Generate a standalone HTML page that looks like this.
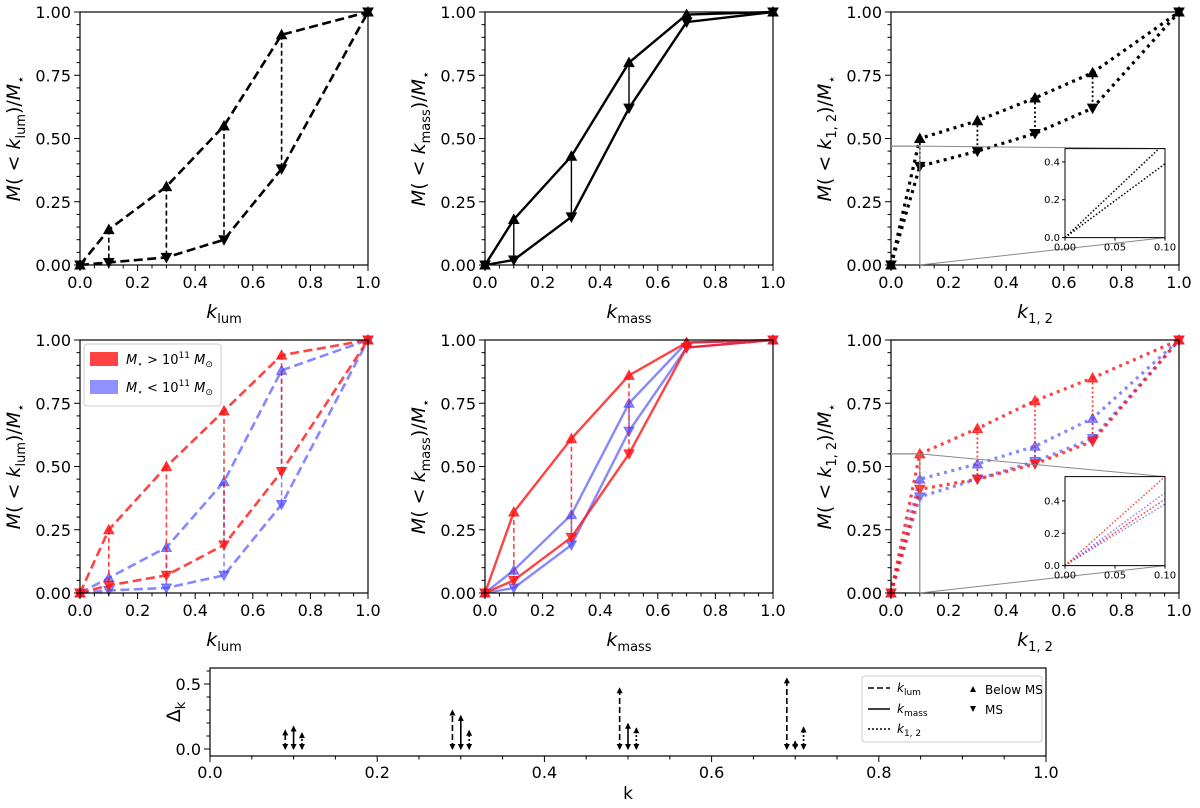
<!DOCTYPE html>
<html><head><meta charset="utf-8">
<style>
html,body{margin:0;padding:0;background:#fff;}
svg{display:block;font-family:"DejaVu Sans","Liberation Sans",sans-serif;}
</style></head>
<body>
<svg id="fig" width="1200" height="808" viewBox="0 0 1200 808"></svg>
<script>
// ---- data ----
const kGrid = [0, 0.1, 0.3, 0.5, 0.7, 1.0];
const lumUp = [0, 0.14, 0.31, 0.55, 0.91, 1.0];
const lumDown = [0, 0.01, 0.03, 0.10, 0.38, 1.0];
const massUp = [0, 0.18, 0.43, 0.80, 0.99, 1.0];
const massDown = [0, 0.02, 0.19, 0.62, 0.96, 1.0];
const k12Up = [0, 0.50, 0.57, 0.66, 0.76, 1.0];
const k12Down = [0, 0.39, 0.45, 0.52, 0.62, 1.0];
const lumRedUp = [0, 0.25, 0.50, 0.72, 0.94, 1.0];
const lumRedDown = [0, 0.03, 0.07, 0.19, 0.48, 1.0];
const lumBlueUp = [0, 0.06, 0.18, 0.44, 0.88, 1.0];
const lumBlueDown = [0, 0.01, 0.02, 0.07, 0.35, 1.0];
const massRedUp = [0, 0.32, 0.61, 0.86, 0.99, 1.0];
const massRedDown = [0, 0.05, 0.22, 0.55, 0.97, 1.0];
const massBlueUp = [0, 0.09, 0.31, 0.75, 0.99, 1.0];
const massBlueDown = [0, 0.02, 0.19, 0.64, 0.97, 1.0];
const k12RedUp = [0, 0.55, 0.65, 0.76, 0.85, 1.0];
const k12RedDown = [0, 0.41, 0.45, 0.51, 0.60, 1.0];
const k12BlueUp = [0, 0.45, 0.51, 0.58, 0.69, 1.0];
const k12BlueDown = [0, 0.38, 0.45, 0.52, 0.61, 1.0];
const xTicks = ["0.0","0.2","0.4","0.6","0.8","1.0"];
const yTicks = ["0.00","0.25","0.50","0.75","1.00"];
const dkCenters = [0.1, 0.3, 0.5, 0.7];
const dkLum = [0.143, 0.296, 0.467, 0.543];
const dkMass = [0.173, 0.255, 0.194, 0.059];
const dkK12 = [0.122, 0.14, 0.16, 0.166];
const dkYTicks = ["0.0","0.5"];

const NS="http://www.w3.org/2000/svg";
const svg=document.getElementById('fig');
function el(tag,attrs,parent){const e=document.createElementNS(NS,tag);for(const k in attrs)e.setAttribute(k,attrs[k]);(parent||svg).appendChild(e);return e;}

const RED="rgba(255,20,20,0.8)", BLUE="rgba(70,70,255,0.65)";
const STY={dash:{w:2.6,d:"9,4.5",cw:1.6,cd:"5,3"},solid:{w:2.4,d:"none",cw:1.4,cd:"none"},soliddash:{w:2.4,d:"none",cw:1.6,cd:"5,3"},dot:{w:3.2,d:"3,4.5",cw:1.8,cd:"2,2.5"}};

function tri(g,x,y,up,color,name){
  const s=5;
  const pts=up?`${x-s},${y+s*0.8} ${x+s},${y+s*0.8} ${x},${y-s}`:`${x-s},${y-s*0.8} ${x+s},${y-s*0.8} ${x},${y+s}`;
  const t=el('polygon',{points:pts,fill:color,stroke:color,'stroke-width':1},g);
  
  
}

function panel(id,L,T,W,H,series,style,xlab,ylab,inset){
  const g=el('g',{});
  
  
  const sx=v=>L+v*W, sy=v=>T+H-v*H;
  const clipId='clip-'+id;
  const cp=el('clipPath',{id:clipId},g);el('rect',{x:L-6,y:T-6,width:W+12,height:H+12},cp);
  const plot=el('g',{'clip-path':`url(#${clipId})`},g);
  const st=STY[style];
  series.forEach(sr=>{
    [['up',sr.up,true],['down',sr.down,false]].forEach(([nm,arr,up])=>{
      const p=el('polyline',{points:kGrid.map((k,i)=>sx(k)+','+sy(arr[i])).join(' '),fill:'none',stroke:sr.color,'stroke-width':st.w,'stroke-dasharray':st.d},plot);
      
      
    });
    kGrid.forEach((k,i)=>{
      if(i>0&&i<kGrid.length-1){
        const c=el('line',{x1:sx(k),x2:sx(k),y1:sy(sr.up[i]),y2:sy(sr.down[i]),stroke:sr.conn||sr.color,'stroke-width':st.cw,'stroke-dasharray':st.cd},plot);
        
        
      }
      tri(plot,sx(k),sy(sr.up[i]),true,sr.color,sr.name+'-up-marker');
      tri(plot,sx(k),sy(sr.down[i]),false,sr.color,sr.name+'-down-marker');
    });
  });
  const b=el('rect',{x:L,y:T,width:W,height:H,fill:'none',stroke:'#000','stroke-width':1.2},g);
  
  for(let i=0;i<=20;i++){const v=i*0.05;const maj=i%4===0;
    el('line',{x1:sx(v),x2:sx(v),y1:T+H,y2:T+H+(maj?6:3.5),stroke:'#000','stroke-width':1},g);}
  for(let i=0;i<=20;i++){const v=i*0.05;const maj=i%5===0;
    el('line',{x1:L,x2:L-(maj?6:3.5),y1:sy(v),y2:sy(v),stroke:'#000','stroke-width':1},g);}
  xTicks.forEach(t=>{const tx=el('text',{x:sx(+t),y:T+H+23,'text-anchor':'middle','font-size':16},g);tx.textContent=t;
    });
  yTicks.forEach(t=>{const tx=el('text',{x:L-9,y:sy(+t)+6,'text-anchor':'end','font-size':16},g);tx.textContent=t;
    });
  const xl=el('text',{x:L+W/2,y:T+H+53,'text-anchor':'middle','font-size':19},g);
  xl.innerHTML=`<tspan font-style="italic">k</tspan><tspan font-size="13" dy="5">${xlab}</tspan>`;
  
  const yl=el('text',{transform:`translate(${L-60},${T+H/2}) rotate(-90)`,'text-anchor':'middle','font-size':19},g);
  yl.innerHTML=`<tspan font-style="italic">M</tspan>( &lt; <tspan font-style="italic">k</tspan><tspan font-size="13" dy="5">${ylab}</tspan><tspan dy="-5">)/</tspan><tspan font-style="italic">M</tspan><tspan font-size="13" dy="5">⋆</tspan>`;
  
  if(inset){
    const ymax=inset.ymax;
    const iL=1065,iR=1165,iT=T+H*0.54,iB=iT+89;
    el('line',{x1:L,x2:sx(0.1),y1:sy(ymax),y2:sy(ymax),stroke:'#888','stroke-width':1.2},g);
    el('line',{x1:sx(0.1),x2:sx(0.1),y1:sy(0),y2:sy(ymax),stroke:'#888','stroke-width':1.2},g);
    el('line',{x1:sx(0.1),x2:iR,y1:sy(ymax),y2:iT,stroke:'#888','stroke-width':1},g);
    el('line',{x1:sx(0.1),x2:iR,y1:sy(0),y2:iB,stroke:'#888','stroke-width':1},g);
    const ig=el('g',{},g);
    
    el('rect',{x:iL,y:iT,width:iR-iL,height:iB-iT,fill:'#fff'},ig);
    const icx=v=>iL+v/0.1*(iR-iL), icy=v=>iB-v/ymax*(iB-iT);
    const icp=el('clipPath',{id:clipId+'i'},ig);el('rect',{x:iL,y:iT,width:iR-iL,height:iB-iT},icp);
    const ip=el('g',{'clip-path':`url(#${clipId}i)`},ig);
    series.forEach(sr=>{[sr.up,sr.down].forEach(arr=>{
      el('line',{x1:icx(0),y1:icy(0),x2:icx(kGrid[1]),y2:icy(arr[1]),stroke:sr.color,'stroke-width':1.5,'stroke-dasharray':'1.5,2'},ip);});});
    el('rect',{x:iL,y:iT,width:iR-iL,height:iB-iT,fill:'none',stroke:'#000','stroke-width':1},ig);
    ["0.00","0.05","0.10"].forEach(t=>{el('line',{x1:icx(+t),x2:icx(+t),y1:iB,y2:iB+3,stroke:'#000'},ig);
      const tx=el('text',{x:icx(+t),y:iB+13,'text-anchor':'middle','font-size':10},ig);tx.textContent=t;});
    ["0.0","0.2","0.4"].forEach(t=>{el('line',{x1:iL,x2:iL-3,y1:icy(+t),y2:icy(+t),stroke:'#000'},ig);
      const tx=el('text',{x:iL-5,y:icy(+t)+3.5,'text-anchor':'end','font-size':10},ig);tx.textContent=t;});
  }
}
const K="#000";
panel('panel-lum',80,12,288,253,[{name:'lum',up:lumUp,down:lumDown,color:K}],'dash','lum','lum');
panel('panel-mass',485,12,288,253,[{name:'mass',up:massUp,down:massDown,color:K}],'solid','mass','mass');
panel('panel-k12',891,12,288,253,[{name:'k12',up:k12Up,down:k12Down,color:K}],'dot','1, 2','1, 2',{ymax:0.47});
panel('panel-lum-split',80,340,288,253,[{name:'lum-blue',up:lumBlueUp,down:lumBlueDown,color:BLUE},{name:'lum-red',up:lumRedUp,down:lumRedDown,color:RED}],'dash','lum','lum');
panel('panel-mass-split',485,340,288,253,[{name:'mass-blue',up:massBlueUp,down:massBlueDown,color:BLUE,conn:BLUE},{name:'mass-red',up:massRedUp,down:massRedDown,color:RED,conn:RED}],'soliddash','mass','mass');
panel('panel-k12-split',891,340,288,253,[{name:'k12-blue',up:k12BlueUp,down:k12BlueDown,color:BLUE},{name:'k12-red',up:k12RedUp,down:k12RedDown,color:RED}],'dot','1, 2','1, 2',{ymax:0.55});

(function(){
  const g=el('g',{});
  el('rect',{x:84,y:344,width:137,height:62,fill:'#fff',stroke:'#ccc',rx:3},g);
  el('rect',{x:90,y:352,width:28,height:14,fill:'rgba(255,20,20,0.8)'},g);
  el('rect',{x:90,y:380,width:28,height:14,fill:'rgba(70,70,255,0.6)'},g);
  const t1=el('text',{x:126,y:364,'font-size':13},g);
  t1.innerHTML='<tspan font-style="italic">M</tspan><tspan font-size="9" dy="3">⋆</tspan><tspan dy="-3"> &gt; 10</tspan><tspan font-size="9" dy="-6">11</tspan><tspan dy="6"> </tspan><tspan font-style="italic">M</tspan><tspan font-size="9" dy="3">⊙</tspan>';
  const t2=el('text',{x:126,y:392,'font-size':13},g);
  t2.innerHTML='<tspan font-style="italic">M</tspan><tspan font-size="9" dy="3">⋆</tspan><tspan dy="-3"> &lt; 10</tspan><tspan font-size="9" dy="-6">11</tspan><tspan dy="6"> </tspan><tspan font-style="italic">M</tspan><tspan font-size="9" dy="3">⊙</tspan>';
})();

(function(){
  const L=210,R=1046,T=668,B=756,y0=749,yh=684;
  const sx=v=>L+v*(R-L), sy=v=>y0-(y0-yh)*v/0.5;
  const g=el('g',{});
  const sets=[[dkLum,-0.01,'dash','lum'],[dkMass,0,'solid','mass'],[dkK12,0.01,'dot','k12']];
  const dsh={dash:"6,3",solid:"none",dot:"2,2"};
  sets.forEach(([arr,off,s,nm])=>{
    dkCenters.forEach((c,i)=>{
      const x=sx(c+off);
      const ln=el('line',{x1:x,x2:x,y1:sy(0),y2:sy(arr[i]),stroke:'#000','stroke-width':1.6,'stroke-dasharray':dsh[s]},g);
      
      
      el('polygon',{points:`${x-3},${sy(arr[i])+5} ${x+3},${sy(arr[i])+5} ${x},${sy(arr[i])-1}`,fill:'#000'},g);
      el('polygon',{points:`${x-3},${sy(0)-5} ${x+3},${sy(0)-5} ${x},${sy(0)+1}`,fill:'#000'},g);
    });
  });
  el('rect',{x:L,y:T,width:R-L,height:B-T,fill:'none',stroke:'#000','stroke-width':1.2},g);
  for(let i=0;i<=20;i++){const v=i*0.05,maj=i%4===0;el('line',{x1:sx(v),x2:sx(v),y1:B,y2:B+(maj?6:3.5),stroke:'#000'},g);}
  for(let i=0;i<=6;i++){const v=i*0.1;if(sy(v)<T)break;el('line',{x1:L,x2:L-(i%5===0?6:3.5),y1:sy(v),y2:sy(v),stroke:'#000'},g);}
  xTicks.forEach(t=>{const tx=el('text',{x:sx(+t),y:B+22,'text-anchor':'middle','font-size':16},g);tx.textContent=t;
    });
  dkYTicks.forEach(t=>{const tx=el('text',{x:L-9,y:sy(+t)+6,'text-anchor':'end','font-size':16},g);tx.textContent=t;
    });
  const xl=el('text',{x:(L+R)/2,y:799,'text-anchor':'middle','font-size':17},g);xl.textContent='k';
  
  const yl=el('text',{transform:`translate(180,712) rotate(-90)`,'text-anchor':'middle','font-size':19},g);
  yl.innerHTML='Δ<tspan font-size="13" dy="5">k</tspan>';
  
  const lg=el('g',{},g);
  el('rect',{x:862,y:676,width:180,height:66,fill:'#fff',stroke:'#ccc',rx:3},lg);
  [['6,3',692,'lum'],['none',713,'mass'],['2,2',733,'1, 2']].forEach(([d,y,s])=>{
    el('line',{x1:868,x2:890,y1:y-4,y2:y-4,stroke:'#000','stroke-width':1.6,'stroke-dasharray':d},lg);
    const t=el('text',{x:897,y:y,'font-size':12},lg);
    t.innerHTML=`<tspan font-style="italic">k</tspan><tspan font-size="9" dy="3">${s}</tspan>`;
  });
  el('polygon',{points:'970,692 976,692 973,686',fill:'#000'},lg);
  el('polygon',{points:'970,706 976,706 973,712',fill:'#000'},lg);
  const b1=el('text',{x:985,y:694,'font-size':12},lg);b1.textContent='Below MS';
  const b2=el('text',{x:985,y:714,'font-size':12},lg);b2.textContent='MS';
})();
</script>
</body></html>
